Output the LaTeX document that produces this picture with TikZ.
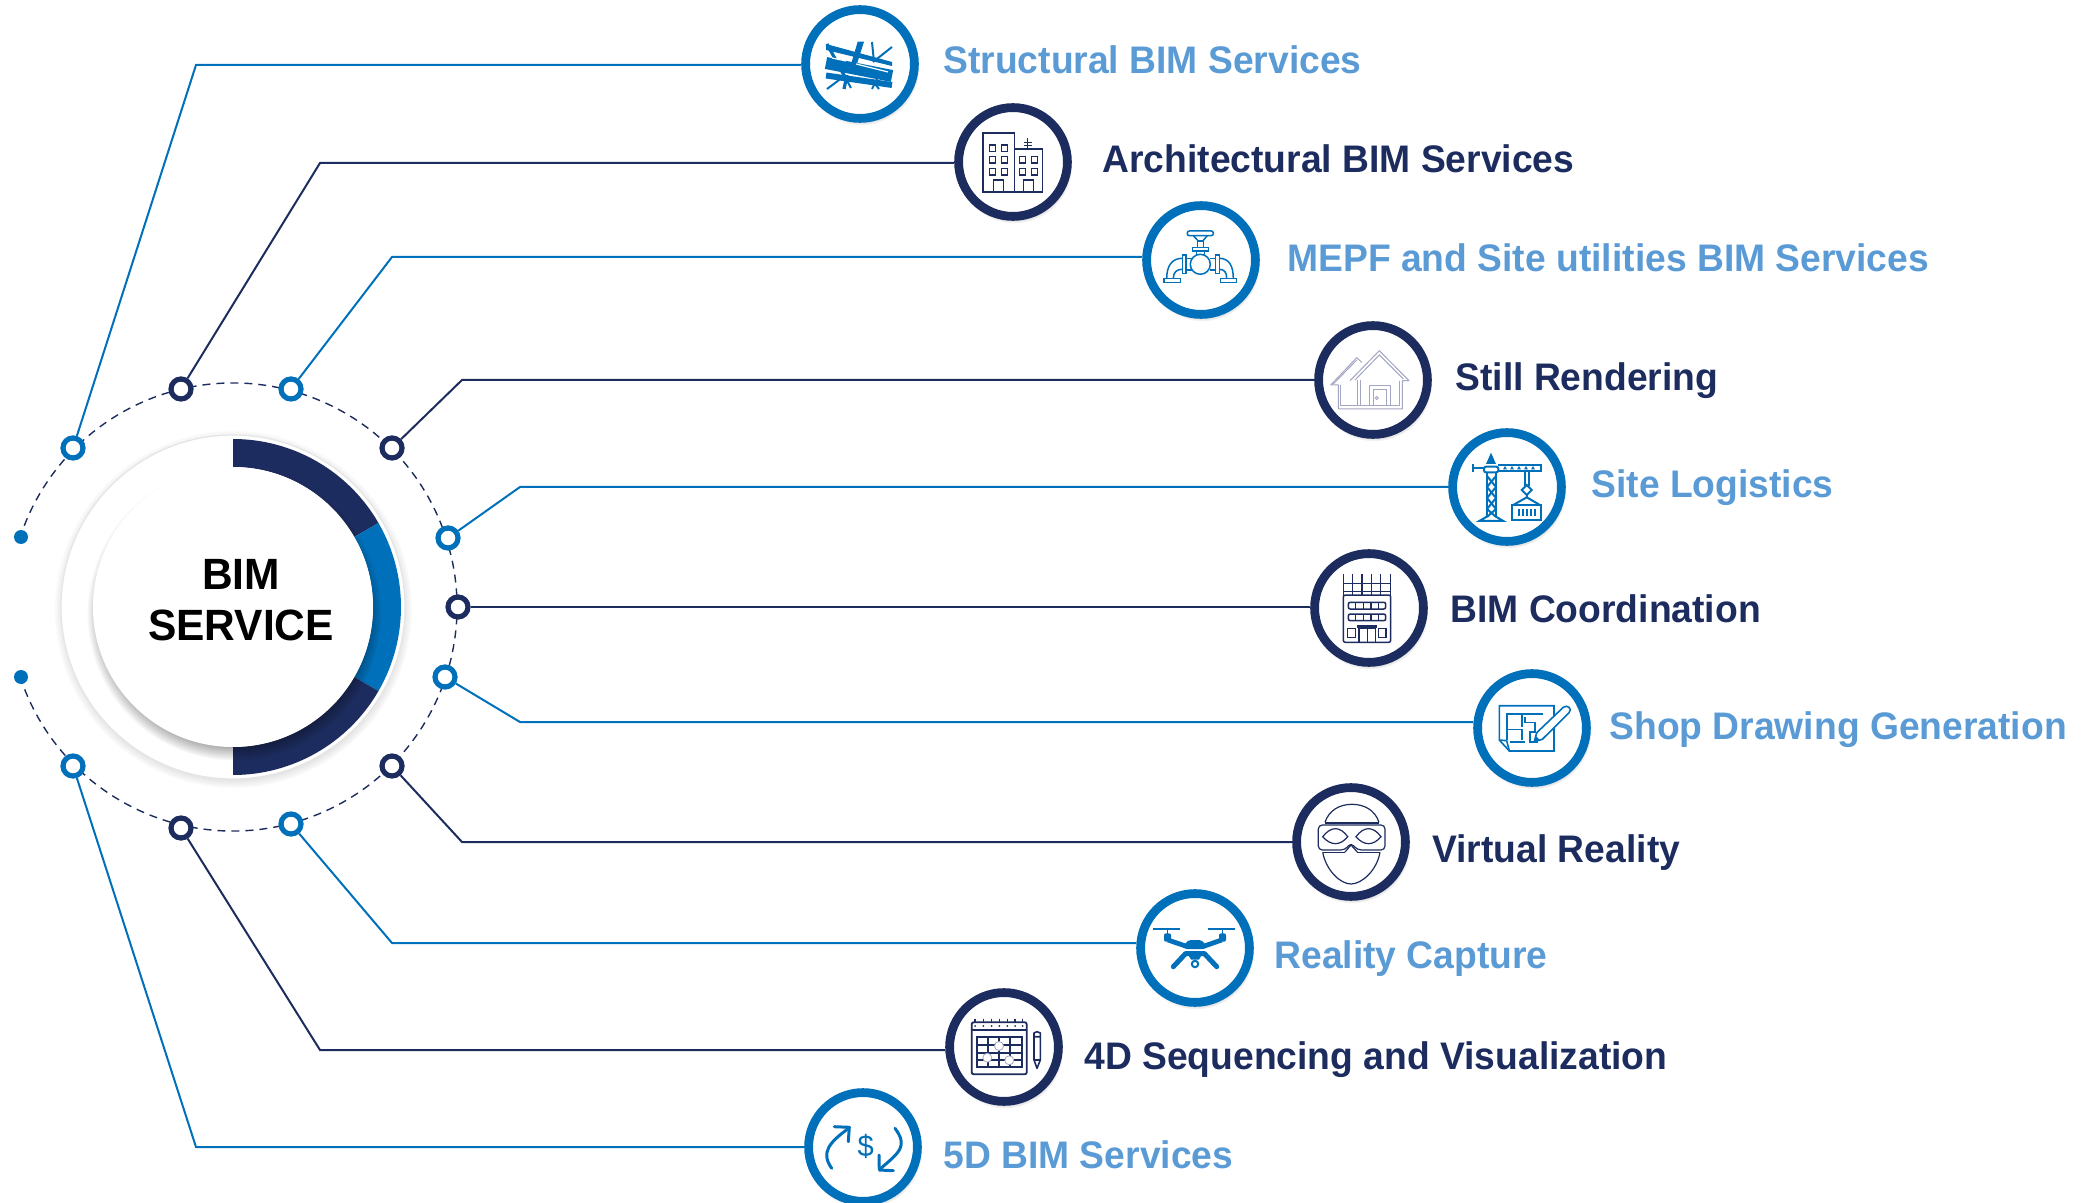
\documentclass[tikz,border=0pt]{standalone}
\usepackage{fontspec}
\setmainfont[FakeStretch=.97]{Liberation Sans}
\usetikzlibrary{shadows,fadings}
\definecolor{bimblue}{HTML}{0070BA}
\definecolor{bimnavy}{HTML}{1D2C5E}
\definecolor{bimsky}{HTML}{5B9BD5}
\definecolor{bimgrey}{HTML}{A3A6C2}
\tikzset{
  blueport/.style={circle,draw=bimblue,line width=2.6pt,fill=white,minimum size=10pt,inner sep=0pt},
  navyport/.style={circle,draw=bimnavy,line width=2.6pt,fill=white,minimum size=10pt,inner sep=0pt},
  bluehub/.style={circle,draw=bimblue,line width=4.4pt,fill=white,minimum size=54.4pt,inner sep=0pt,
    circular drop shadow={shadow scale=1.07,shadow xshift=.5pt,shadow yshift=-1.5pt,opacity=.3,fill=black}},
  navyhub/.style={circle,draw=bimnavy,line width=4.4pt,fill=white,minimum size=54.4pt,inner sep=0pt,
    circular drop shadow={shadow scale=1.07,shadow xshift=.5pt,shadow yshift=-1.5pt,opacity=.3,fill=black}},
  bluelabel/.style={anchor=base west,inner sep=0pt,text=bimsky,font=\fontsize{19.2}{23}\selectfont\bfseries},
  navylabel/.style={anchor=base west,inner sep=0pt,text=bimnavy,font=\fontsize{19.2}{23}\selectfont\bfseries},
  bluelink/.style={draw=bimblue,line width=1pt},
  navylink/.style={draw=bimnavy,line width=1pt}
}
\begin{document}
\begin{tikzpicture}[x=.5pt,y=-.5pt]
  \useasboundingbox (0,0) rectangle (2089,1203);
  % central disc with its ring
  \node[circle,draw=black!10,line width=.6pt,fill=white,minimum size=172pt,inner sep=0pt,
    circular drop shadow={shadow scale=1.04,shadow xshift=0pt,shadow yshift=-1pt,opacity=.3,fill=black}] (core) at (233,607) {};
  \fill[bimnavy] ([shift={(-90:168)}]core.center) arc[start angle=-90,end angle=-30,radius=168]
    -- ([shift={(-30:140)}]core.center) arc[start angle=-30,end angle=-90,radius=140] -- cycle;
  \fill[bimblue] ([shift={(-30:168)}]core.center) arc[start angle=-30,end angle=30,radius=168]
    -- ([shift={(30:140)}]core.center) arc[start angle=30,end angle=-30,radius=140] -- cycle;
  \fill[bimnavy] ([shift={(30:168)}]core.center) arc[start angle=30,end angle=90,radius=168]
    -- ([shift={(90:140)}]core.center) arc[start angle=90,end angle=30,radius=140] -- cycle;
  \node[circle,fill=white,minimum size=140pt,inner sep=0pt,
    circular drop shadow={shadow scale=1.05,shadow xshift=.5pt,shadow yshift=-3pt,opacity=.5,fill=black}] (inner) at (233,607) {};
  \node[align=center,font=\fontsize{21.9}{25.5}\selectfont\bfseries] (title) at (241,600) {BIM\\SERVICE};
  % dashed orbit and its two end dots
  \draw[bimnavy,line width=.7pt,dash pattern=on 4pt off 3pt] ([shift={(162:224)}]core.center) arc[start angle=162,end angle=-162,radius=224];
  \fill[bimblue] (21,537) circle (7);
  \fill[bimblue] (21,677) circle (7);
  % ports on the orbit
  \foreach \nm/\px/\py/\sty in {p1/73/448/blueport,p2/181/389/navyport,p3/291/389/blueport,p4/392/448/navyport,
    p5/448/538/blueport,p6/458/607/navyport,p7/445/677/blueport,p8/392/766/navyport,
    p9/291/824/blueport,p10/181/828/navyport,p11/73/766/blueport}
    \node[\sty] (\nm) at (\px,\py) {};
  % service circles
  \foreach \nm/\px/\py/\sty in {h1/860/64/bluehub,h2/1013/162/navyhub,h3/1201/260/bluehub,h4/1373/380/navyhub,
    h5/1507/487/bluehub,h6/1369/608/navyhub,h7/1532/728/bluehub,h8/1351/842/navyhub,
    h9/1195/948/bluehub,h10/1004/1047/navyhub,h11/863/1147/bluehub}
    \node[\sty] (\nm) at (\px,\py) {};
  % connectors, with one knee each
  \foreach \nm/\kx/\ky/\sty in {1/196/65/bluelink,2/320/163/navylink,3/392/257/bluelink,4/462/380/navylink,
    5/520/487/bluelink,7/520/722/bluelink,8/462/842/navylink,
    9/392/943/bluelink,10/320/1050/navylink,11/196/1147/bluelink}{
    \coordinate (k\nm) at (\kx,\ky);
    \draw[\sty] (p\nm) -- (k\nm) -- (k\nm -| h\nm.west);
  }
  \draw[navylink] (p6) -- (p6 -| h6.west);
  % labels
  \node[bluelabel] (l1) at (943,74) {Structural BIM Services};
  \node[navylabel] (l2) at (1102,173) {Architectural BIM Services};
  \node[bluelabel] (l3) at (1287,272) {MEPF and Site utilities BIM Services};
  \node[navylabel] (l4) at (1455,390.5) {Still Rendering};
  \node[bluelabel] (l5) at (1591,498) {Site Logistics};
  \node[navylabel] (l6) at (1450,622) {BIM Coordination};
  \node[bluelabel] (l7) at (1609,739) {Shop Drawing Generation};
  \node[navylabel] (l8) at (1432,862) {Virtual Reality};
  \node[bluelabel] (l9) at (1274,968) {Reality Capture};
  \node[navylabel] (l10) at (1084,1069) {4D Sequencing and Visualization};
  \node[bluelabel] (l11) at (943,1168) {5D BIM Services};
  % icon: steel beams
  \begin{scope}[bimblue]
    \fill (826,44) -- (892,62) -- (892,66) -- (826,50) -- cycle;
    \draw[line width=6pt] (826,63) -- (892,76);
    \draw[line width=3pt] (826,75.5) -- (892,85);
    \fill (857.7,41.7) -- (864,41.7) -- (855,70) -- (849.3,70) -- cycle;
    \draw[line width=1pt] (872,42) -- (874,62) (892,47) -- (873,62);
    \draw[line width=1.6pt] (827,44) -- (845,77) (844,89) -- (847,75);
    \draw[line width=1pt] (827,89) -- (843,77) (851,88) -- (845,77) (872,89) -- (880,73) (879,89) -- (872,80);
    \draw[white,line width=.6pt] (856,64) -- (888,72) (832,58) -- (846,61);
  \end{scope}
  % icon: office buildings
  \begin{scope}[bimnavy,line width=.75pt]
    \draw (983,133) rectangle (1014.5,192) (1014.5,149) rectangle (1042.5,192);
    \draw (1027.7,138) -- (1027.7,149) (1024,142.7) -- (1032,142.7) (1024,145.3) -- (1032,145.3);
    \foreach \wy in {145,156.7,168.3}
      \foreach \wx in {989.5,1001.7}
        \draw (\wx,\wy) rectangle ++(6,6.5);
    \foreach \wy in {156.7,168.3}
      \foreach \wx in {1019.3,1031.3}
        \draw (\wx,\wy) rectangle ++(6,6.5);
    \draw (993.3,192) -- (993.3,180) -- (1003.3,180) -- (1003.3,192);
    \draw (1023.3,192) -- (1023.3,180) -- (1033.3,180) -- (1033.3,192);
  \end{scope}
  % icon: valve on a pipe
  \begin{scope}[bimblue,line width=.75pt]
    \draw[rounded corners=1pt] (1187.3,231) rectangle (1213.3,235.7);
    \draw (1193.3,235.7) -- (1198.3,241) -- (1202.7,241) -- (1207.3,235.7);
    \draw (1197.7,241) rectangle (1203.3,247.3) (1192.7,247.3) rectangle (1208.3,251) (1196.7,251) -- (1196.7,255) (1204.3,251) -- (1204.3,255);
    \draw (1200.3,264.3) circle (10);
    \draw (1182.3,255) rectangle (1186,273.3) (1215.7,255) rectangle (1219.3,273.3);
    \draw (1186,258.3) -- (1191.5,258.3) (1186,270) -- (1191.5,270) (1209.5,258.3) -- (1215.7,258.3) (1209.5,270) -- (1215.7,270);
    \draw (1182.3,258.3) .. controls (1172,258.3) and (1166.7,266) .. (1166.7,278.3);
    \draw (1182.3,269.3) .. controls (1177,269.3) and (1173.3,272) .. (1173.3,278.3);
    \draw (1219.3,258.3) .. controls (1229,258.3) and (1233.3,266) .. (1233.3,278.3);
    \draw (1219.3,269.3) .. controls (1224,269.3) and (1226.7,272) .. (1226.7,278.3);
    \draw (1164,278.3) rectangle (1180.7,282.3) (1220.7,278.3) rectangle (1236.7,282.3);
  \end{scope}
  % icon: houses
  \begin{scope}[bimgrey,line width=.5pt]
    \draw[line join=round] (1350,380.7) -- (1379.3,350.7) -- (1409,380.7) -- (1402.3,380.7) -- (1402.3,409) -- (1338.3,409) -- (1338.3,385) -- (1330.7,385) -- (1356.7,357.7) -- (1361.7,362.3);
    \draw (1355,380) -- (1379.3,355) -- (1403.3,379);
    \draw (1333.3,384) -- (1356.7,360);
    \draw (1357.3,380) -- (1357.3,405.7) (1360.7,380) -- (1360.7,405.7) (1399.3,381) -- (1399.3,405.7);
    \draw (1340.7,385) -- (1340.7,406) -- (1399.3,406);
    \draw (1369.3,405.7) -- (1369.3,386) -- (1390,386) -- (1390,405.7);
    \draw (1373.3,405.7) -- (1373.3,390) -- (1386,390) -- (1386,405.7);
    \draw (1376.7,398) circle (1.5);
  \end{scope}
  % icon: tower crane
  \begin{scope}[bimblue,line width=1pt]
    \draw (1486.7,473) -- (1486.7,517) (1496,473) -- (1496,517);
    \draw (1487,476) -- (1496,487) -- (1487,498) -- (1496,509) -- (1487,517);
    \draw (1496,476) -- (1487,487) -- (1496,498) -- (1487,509) -- (1496,517);
    \draw[line cap=round] (1486.7,516.7) -- (1479.3,521) -- (1503.3,521) -- (1496,516.7);
    \fill (1491,452.7) -- (1496,464) -- (1486,464) -- cycle;
    \draw[rounded corners=1pt] (1484,466.7) rectangle (1498.3,472.3);
    \draw (1473.3,464) -- (1473.3,472.3) (1541,464) -- (1541,472.3) (1473.3,468.5) -- (1484,468.5);
    \draw (1498.3,465.5) -- (1541,465.5) (1498.3,471) -- (1541,471);
    \foreach \tx in {1505,1512,1519,1526,1533}
      \fill (\tx,466) -- ++(2,3.5) -- ++(-4,0) -- cycle;
    \draw (1525,471) -- (1525,486) (1529,471) -- (1529,486);
    \draw (1526.7,485) -- (1531.7,490) -- (1526.7,495) -- (1521.7,490) -- cycle;
    \draw (1526.7,495) -- (1526.7,498);
    \draw (1513.3,505) -- (1526.7,497.3) -- (1540,505);
    \draw (1512.3,505) rectangle (1541,520);
    \foreach \bx in {1519.3,1523.3,1527,1531,1535}
      \draw (\bx,509) -- (\bx,516);
  \end{scope}
  % icon: building under scaffold
  \begin{scope}[bimnavy,line width=.75pt]
    \foreach \sx in {1343.3,1352.7,1362,1371.3,1380.7,1390.7}
      \draw (\sx,573.5) -- (\sx,595);
    \draw (1343.3,583.3) -- (1390.7,583.3) (1343.3,591.7) -- (1390.7,591.7);
    \draw[rounded corners=1pt] (1343.3,595) rectangle (1390.7,642.3);
    \foreach \wy in {602.3,614}{
      \draw[rounded corners=1pt] (1348.3,\wy) rectangle ++(37.4,6.7);
      \foreach \wx in {1355.7,1363.3,1371,1378.3}
        \draw (\wx,\wy) -- ++(0,6.7);
    }
    \fill (1357.3,625) rectangle (1377.3,628.3);
    \draw (1359,628.3) rectangle (1375.7,642.3) (1367.3,628.3) -- (1367.3,642.3);
    \draw (1347.7,628.3) rectangle (1355.7,637.3) (1378.3,628.3) rectangle (1386,637.3);
  \end{scope}
  % icon: drawing sheet and pen
  \begin{scope}[bimblue,line width=.8pt]
    \draw (1499.3,740) -- (1499.3,705.7) -- (1554,705.7) -- (1554,751) -- (1509.3,751) -- cycle;
    \draw (1499.3,740) -- (1506.7,740.7) -- (1509.3,751);
    \draw (1506.7,740) -- (1506.7,714) -- (1543.3,714) (1510,741.7) -- (1525,741.7);
    \draw (1521.7,714) -- (1521.7,727.3) (1507.7,729.3) -- (1521.7,729.3) -- (1521.7,740);
    \draw (1525,716.7) -- (1525,722.3) -- (1535,722.3) -- (1535,731.7) -- (1530,731.7) -- (1530,741.7) -- (1538.3,741.7);
    \draw[fill=white,line join=round] (1534.3,741.7) -- (1536.7,732.7) -- (1563.3,707.3) .. controls (1567,704) and (1573,709) .. (1569,712.7) -- (1542.3,739.3) -- cycle;
    \fill (1534.3,741.7) -- (1535.7,736) -- (1540,740) -- cycle;
  \end{scope}
  % icon: headset on a face
  \begin{scope}[bimnavy,line width=.6pt]
    \draw (1325,822.3) .. controls (1329,810) and (1340,804.3) .. (1352,804.3) .. controls (1364,804.3) and (1375,810) .. (1379,822.3);
    \draw (1325,823) -- (1379,823);
    \draw[rounded corners=2pt] (1318.3,825) -- (1385,825) -- (1385,850) -- (1357.3,850) -- (1351,842.7) -- (1345,850) -- (1318.3,850) -- cycle;
    \draw (1345,852) -- (1351,845) -- (1357.3,852);
    \draw (1322.7,836.7) .. controls (1331,826) and (1340,826) .. (1347.7,836.7) .. controls (1340,846) and (1331,846) .. cycle;
    \draw (1356,836.7) .. controls (1364,826) and (1373,826) .. (1381,836.7) .. controls (1373,846) and (1364,846) .. cycle;
    \draw (1322.7,852.3) .. controls (1326,870) and (1340,884) .. (1351,884) .. controls (1362,884) and (1377,870) .. (1380,852.3);
    \draw (1322.7,852.3) -- (1345,852.3) (1357.3,852.3) -- (1380,852.3);
  \end{scope}
  % icon: drone
  \begin{scope}[bimblue]
    \draw[line width=.8pt] (1153.3,929) -- (1180,929) (1208.3,929) -- (1235,929) (1167.3,929) -- (1167.3,934) (1222.3,929) -- (1222.3,934);
    \fill[rounded corners=1pt] (1164,933.3) rectangle (1171,941.7) (1219,933.3) rectangle (1226,941.7);
    \draw[line width=2.4pt] (1168,940) -- (1187,946.5) (1221.7,940) -- (1203,946.5);
    \fill[rounded corners=2pt] (1183,949) -- (1187,940) -- (1203,940) -- (1207,949) -- cycle;
    \draw[line width=2.5pt,line cap=round,line join=round] (1173.3,966.7) -- (1185.7,953.5) -- (1204.3,953.5) -- (1216.7,966.7);
    \fill (1187,953) -- (1203,953) -- (1199,959.5) -- (1191,959.5) -- cycle;
    \draw[line width=1pt] (1195,964) circle (3.2);
  \end{scope}
  % icon: calendar and pencil
  \begin{scope}[bimnavy]
    \draw[line width=.9pt,rounded corners=1pt] (971.7,1022.3) rectangle (1026.7,1074.3);
    \draw[line width=.9pt] (971.7,1030) -- (1026.7,1030);
    \foreach \rx in {975,983.3,991.7,999.3,1007.3,1015,1022.7}{
      \draw[line width=.7pt] (\rx,1018.5) -- (\rx,1023);
      \fill (\rx,1026) circle (1);
    }
    \draw[line width=.9pt] (976.7,1037.3) rectangle (1021.7,1066.7);
    \draw[line width=.9pt] (976.7,1045) -- (1021.7,1045) (976.7,1052.7) -- (1021.7,1052.7) (976.7,1060) -- (1021.7,1060);
    \draw[line width=.9pt] (988.3,1037.3) -- (988.3,1066.7) (999.3,1037.3) -- (999.3,1066.7) (1010,1037.3) -- (1010,1066.7);
    \foreach \dx/\dy in {999/1046,987.3/1057.7,1009.3/1060.3}
      \draw[line width=.4pt,bimgrey,fill=white] (\dx,\dy) circle (4.5);
    \draw[line width=.8pt,line join=round] (1034,1033) -- (1034,1060) -- (1037,1068.3) -- (1040.3,1060) -- (1040.3,1033) -- (1037,1031.7) -- cycle (1034,1036.7) -- (1040.3,1036.7) (1034,1060) -- (1040.3,1060);
  \end{scope}
  % icon: cost arrows
  \begin{scope}[bimblue,line width=1.5pt,line cap=round,line join=round]
    \draw (831.7,1168.3) .. controls (820,1152) and (830,1142) .. (849,1128);
    \draw (834.3,1126.7) -- (849.3,1127.3) -- (848.3,1141.7);
    \draw (895,1128.3) .. controls (908,1146) and (900,1152) .. (880,1169);
    \draw (879,1155) -- (879.3,1170) -- (893.3,1170.7);
    \node[text=bimblue,font=\fontsize{15}{15}\selectfont] (cost) at (865.7,1146) {\$};
  \end{scope}
\end{tikzpicture}
\end{document}
